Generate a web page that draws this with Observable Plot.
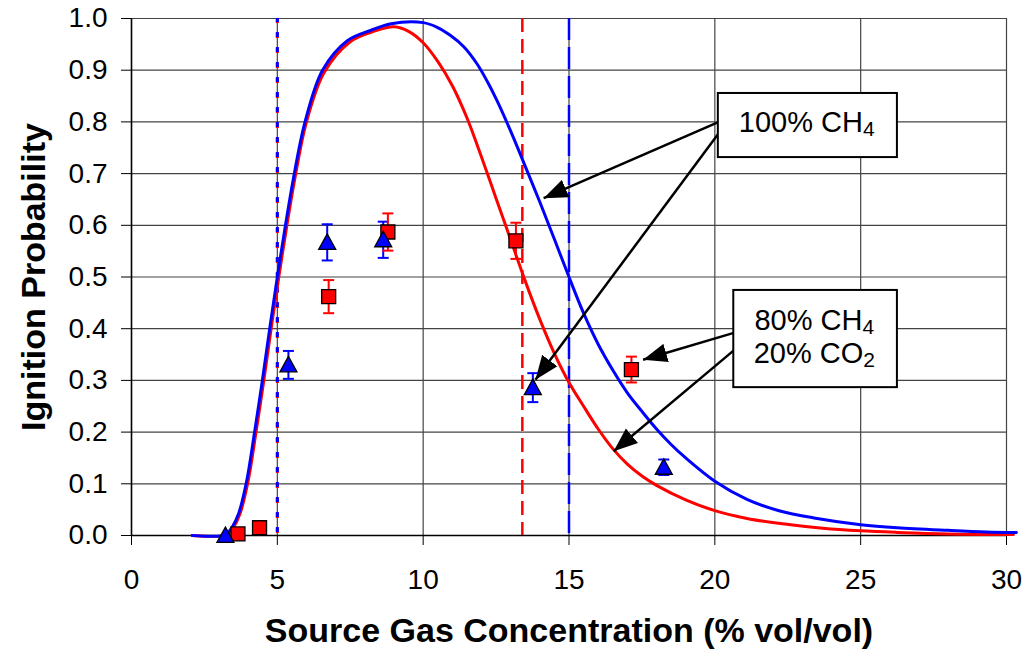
<!DOCTYPE html>
<html><head><meta charset="utf-8">
<script src="https://cdn.jsdelivr.net/npm/d3@7"></script>
<script src="https://cdn.jsdelivr.net/npm/@observablehq/plot@0.6"></script>
<style>html,body{margin:0;padding:0;background:#fff;} #chart{width:1030px;height:663px;}</style>
</head><body><div id="chart"></div>
<script>
// ---- Data ----
const xTicks = [0, 5, 10, 15, 20, 25, 30];
const yTicks = [0.0, 0.1, 0.2, 0.3, 0.4, 0.5, 0.6, 0.7, 0.8, 0.9, 1.0];

// 100% CH4 fitted curve
const ch4CurveX = [2.08, 3.2, 3.28, 3.45, 3.67, 3.94, 4.22, 4.5, 4.75, 5.0, 5.25, 5.55, 5.95, 6.55, 7.4, 8.2, 8.9, 10.0, 10.48, 10.94, 11.4, 11.85, 12.2, 12.54, 13.0, 13.5, 14.0, 14.5, 15.0, 15.5, 16.0, 16.5, 17.0, 17.5, 18.0, 18.5, 19.0, 20.0, 21.1, 22.2, 23.4, 25.0, 26.25, 28.0, 29.3, 30.34];
const ch4CurveY = [0, 0, 0.004, 0.016, 0.042, 0.103, 0.2, 0.305, 0.405, 0.5, 0.59, 0.69, 0.8, 0.9, 0.957, 0.977, 0.99, 0.992, 0.983, 0.967, 0.945, 0.912, 0.878, 0.84, 0.782, 0.714, 0.645, 0.573, 0.5, 0.43, 0.37, 0.32, 0.276, 0.24, 0.206, 0.176, 0.15, 0.105, 0.07, 0.048, 0.034, 0.021, 0.015, 0.01, 0.007, 0.006];

// 80% CH4 / 20% CO2 fitted curve
const mixCurveX = [2.08, 3.25, 3.33, 3.5, 3.72, 3.99, 4.27, 4.55, 4.8, 5.05, 5.3, 5.6, 6.0, 6.6, 7.5, 8.3, 9.0, 9.5, 10.0, 10.5, 11.0, 11.5, 12.0, 12.5, 13.0, 13.5, 14.0, 14.5, 15.0, 15.5, 16.0, 16.5, 17.0, 17.5, 18.0, 19.0, 20.0, 21.1, 22.25, 23.7, 25.0, 26.25, 28.0, 30.24];
const mixCurveY = [0, 0, 0.004, 0.016, 0.042, 0.103, 0.2, 0.305, 0.405, 0.5, 0.59, 0.69, 0.8, 0.895, 0.955, 0.975, 0.984, 0.975, 0.953, 0.917, 0.87, 0.808, 0.732, 0.652, 0.572, 0.492, 0.418, 0.352, 0.296, 0.25, 0.206, 0.168, 0.138, 0.115, 0.097, 0.069, 0.048, 0.033, 0.023, 0.014, 0.009, 0.006, 0.003, 0.002];

// measured points
const ch4PointX = [3.22, 5.38, 6.71, 8.63, 13.76, 18.25];
const ch4PointY = [0.0, 0.33, 0.567, 0.572, 0.286, 0.132];
const ch4PointErr = [0, 0.027, 0.035, 0.035, 0.028, 0.015];

const mixPointX = [3.65, 4.39, 6.76, 8.79, 13.18, 17.14];
const mixPointY = [0.003, 0.015, 0.462, 0.587, 0.570, 0.321];
const mixPointErr = [0, 0, 0.032, 0.036, 0.035, 0.025];

// flammability limits
const ch4Lower = 5.0, ch4Upper = 15.0;
const mixLower = 5.0, mixUpper = 13.4;

// annotations
const boxX1 = [20.12, 20.65], boxX2 = [26.26, 26.26];
const boxY1 = [0.731, 0.286], boxY2 = [0.855, 0.474];
const labelText = ["100% CH4", "80% CH4", "20% CO2"];
const labelX = [23.15, 23.41, 23.41];
const labelY = [0.798, 0.4145, 0.3513];
const arrowX1 = [20.12, 20.12, 20.65, 20.65];
const arrowY1 = [0.7994, 0.777, 0.392, 0.358];
const arrowX2 = [14.13, 13.85, 17.54, 16.53];
const arrowY2 = [0.6524, 0.3012, 0.3398, 0.163];

const xTitle = "Source Gas Concentration (% vol/vol)";
const yTitle = "Ignition Probability";

// ---- build tables ----
const ch4Curve = ch4CurveX.map((x, i) => ({x, y: ch4CurveY[i]}));
const mixCurve = mixCurveX.map((x, i) => ({x, y: mixCurveY[i]}));
const ch4Pts = ch4PointX.map((x, i) => ({x, y: ch4PointY[i], e: ch4PointErr[i]}));
const mixPts = mixPointX.map((x, i) => ({x, y: mixPointY[i], e: mixPointErr[i]}));
const ch4Err = ch4Pts.filter(d => d.e > 0);
const mixErr = mixPts.filter(d => d.e > 0);
const caps = (arr) => arr.flatMap(d => [{x: d.x, y: d.y - d.e}, {x: d.x, y: d.y + d.e}]);
const boxes = boxX1.map((x1, i) => ({x1, x2: boxX2[i], y1: boxY1[i], y2: boxY2[i]}));
const labels = labelText.map((t, i) => ({t, x: labelX[i], y: labelY[i]}));
const arrows = arrowX1.map((x1, i) => ({x1, y1: arrowY1[i], x2: arrowX2[i], y2: arrowY2[i]}));

// custom symbols
const triSym = {draw(ctx, size) { const r = Math.sqrt(size / Math.PI); ctx.moveTo(0, -r); ctx.lineTo(r, r * 0.82); ctx.lineTo(-r, r * 0.82); ctx.closePath(); }};
const sqSym = {draw(ctx, size) { const r = Math.sqrt(size / Math.PI); ctx.moveTo(-r, -r); ctx.lineTo(r, -r); ctx.lineTo(r, r); ctx.lineTo(-r, r); ctx.closePath(); }};
const capSym = {draw(ctx, size) { const r = Math.sqrt(size / Math.PI); ctx.moveTo(-r, 0); ctx.lineTo(r, 0); }};

const BLUE = "#0000ff", RED = "#ff0000";
const FONT = '"Liberation Sans", Arial, Helvetica, sans-serif';

const svg = Plot.plot({
  width: 1030, height: 663,
  marginLeft: 131, marginRight: 24, marginTop: 18, marginBottom: 128,
  x: {domain: [0, 30]},
  y: {domain: [0, 1]},
  style: {fontFamily: FONT, fontSize: "28px", color: "#000", background: "#fff", overflow: "visible"},
  marks: [
    Plot.gridY({ticks: yTicks, stroke: "#444", strokeOpacity: 1, strokeWidth: 1.2}),
    Plot.gridX({ticks: xTicks, stroke: "#444", strokeOpacity: 1, strokeWidth: 1.2}),
    Plot.ruleX([0], {stroke: "#000", strokeWidth: 1.5}),
    Plot.ruleY([0], {stroke: "#000", strokeWidth: 1.5}),
    Plot.axisY({ticks: yTicks, tickFormat: d3.format(".1f"), tickSize: 10, tickPadding: 14, fontSize: 28, label: null, stroke: "#000"}),
    Plot.axisX({ticks: xTicks, tickFormat: d3.format("d"), tickSize: 10, tickPadding: 24, fontSize: 28, label: null, stroke: "#000"}),
    // flammability limits
    Plot.ruleX([mixLower], {stroke: RED, strokeWidth: 3, strokeDasharray: "5,10"}),
    Plot.ruleX([ch4Lower], {stroke: BLUE, strokeWidth: 3, strokeDasharray: "5,10", strokeDashoffset: 1}),
    Plot.ruleX([mixUpper], {stroke: RED, strokeWidth: 2.5, strokeDasharray: "14,7"}),
    Plot.ruleX([ch4Upper], {stroke: BLUE, strokeWidth: 2.5, strokeDasharray: "22,7"}),
    // curves
    Plot.line(mixCurve, {x: "x", y: "y", stroke: RED, strokeWidth: 3, curve: "catmull-rom"}),
    Plot.line(ch4Curve, {x: "x", y: "y", stroke: BLUE, strokeWidth: 3, curve: "catmull-rom"}),
    // error bars
    Plot.ruleX(ch4Err, {x: "x", y1: d => d.y - d.e, y2: d => d.y + d.e, stroke: BLUE, strokeWidth: 2}),
    Plot.dot(caps(ch4Err), {x: "x", y: "y", symbol: capSym, r: 5.5, fill: "none", stroke: BLUE, strokeWidth: 2}),
    Plot.ruleX(mixErr, {x: "x", y1: d => d.y - d.e, y2: d => d.y + d.e, stroke: RED, strokeWidth: 2}),
    Plot.dot(caps(mixErr), {x: "x", y: "y", symbol: capSym, r: 5.5, fill: "none", stroke: RED, strokeWidth: 2}),
    // points
    Plot.dot(mixPts, {x: "x", y: "y", symbol: sqSym, r: 7, fill: RED, stroke: "#000", strokeWidth: 1.3}),
    Plot.dot(ch4Pts, {x: "x", y: "y", symbol: triSym, r: 8.5, fill: BLUE, stroke: "#000", strokeWidth: 1.3}),
    // annotations
    Plot.link(arrows, {x1: "x1", y1: "y1", x2: "x2", y2: "y2", stroke: "#000", strokeWidth: 2.5, strokeLinecap: "butt", markerEnd: "arrow"}),
    Plot.rect(boxes, {x1: "x1", x2: "x2", y1: "y1", y2: "y2", fill: "#fff", stroke: "#000", strokeWidth: 2}),
    Plot.text(labels, {x: "x", y: "y", text: "t", fontSize: 29, fill: "#000"}),
    // titles
    Plot.text([yTitle], {frameAnchor: "left", textAnchor: "middle", dx: -97, rotate: -90, fontSize: 34, fontWeight: "bold", fill: "#000"}),
    Plot.text([xTitle], {frameAnchor: "bottom", textAnchor: "middle", dy: 106, fontSize: 34, fontWeight: "bold", fill: "#000"})
  ]
});

// filled arrowheads
svg.querySelectorAll("marker").forEach(m => {
  m.setAttribute("viewBox", "-24 -10 24 20");
  m.setAttribute("markerWidth", "24");
  m.setAttribute("markerHeight", "20");
  m.setAttribute("markerUnits", "userSpaceOnUse");
  m.setAttribute("refX", "0");
  m.setAttribute("refY", "0");
  m.setAttribute("fill", "#000");
  m.setAttribute("stroke", "none");
  const p = m.querySelector("path");
  if (p) p.setAttribute("d", "M-24,-9.5L0,0L-24,9.5Z");
});

// chemical subscripts
svg.querySelectorAll("text").forEach(t => {
  if (t.childElementCount === 0) {
    const m = t.textContent.match(/^(.*C[HO])(\d)$/);
    if (m) {
      t.textContent = m[1];
      const ts = document.createElementNS("http://www.w3.org/2000/svg", "tspan");
      ts.setAttribute("font-size", "21");
      ts.setAttribute("dy", "4");
      ts.textContent = m[2];
      t.appendChild(ts);
    }
  }
});

document.getElementById("chart").appendChild(svg);
</script>
</body></html>
